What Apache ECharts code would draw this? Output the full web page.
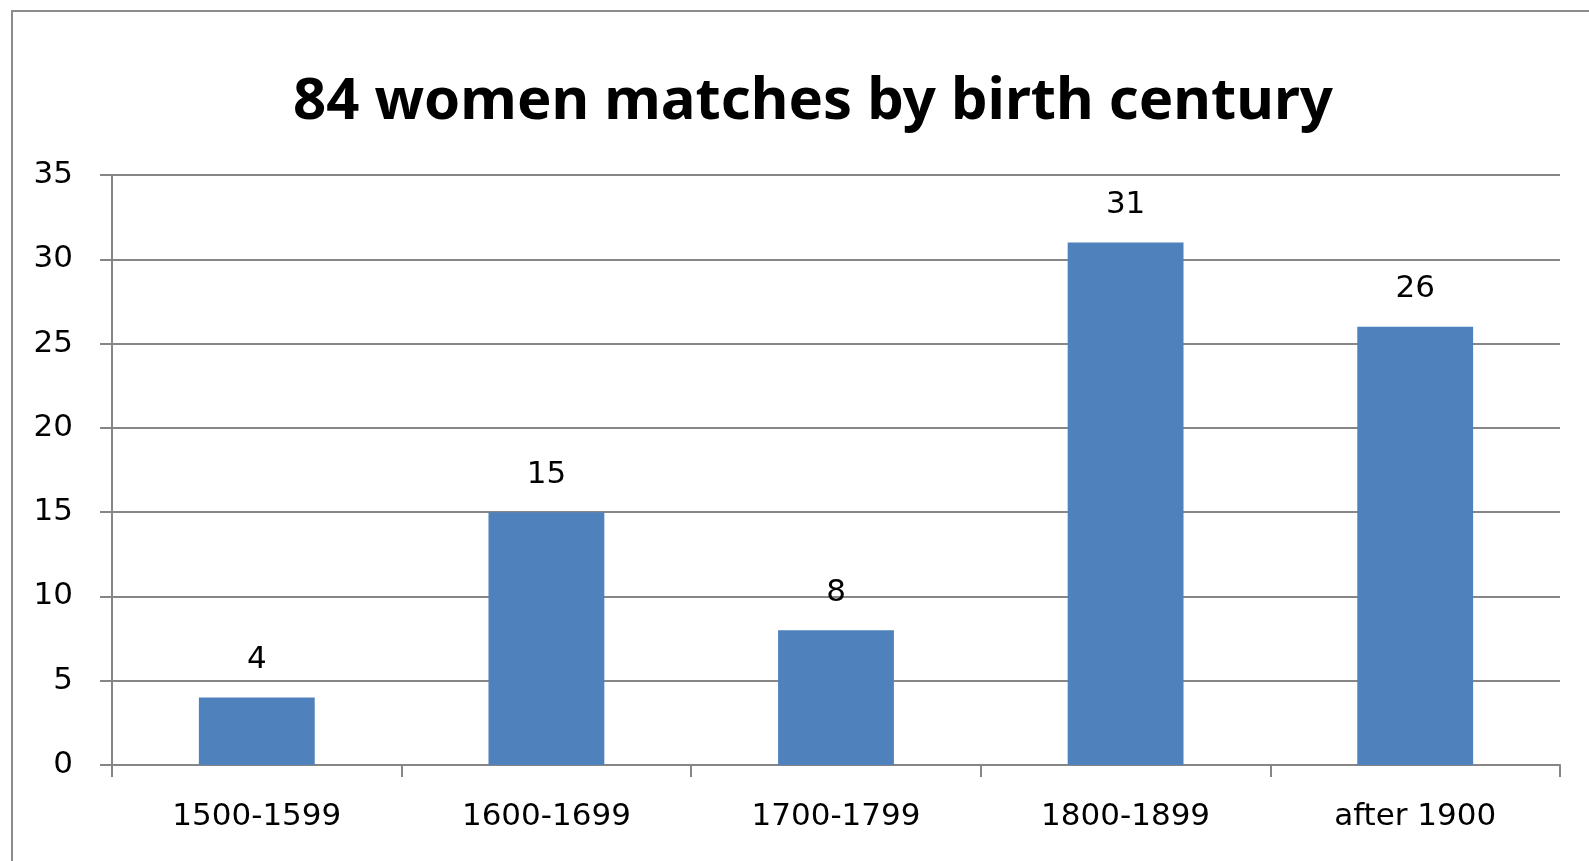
<!DOCTYPE html>
<html>
<head>
<meta charset="utf-8">
<script src="https://cdn.jsdelivr.net/npm/echarts@6/dist/echarts.min.js"></script>
<style>
  html, body { margin: 0; padding: 0; background: #fff; }
  #chart { width: 1589px; height: 861px; }
</style>
</head>
<body>
<div id="chart"></div>
<script>
// birth century buckets and number of matches
var centuries = ['1500-1599', '1600-1699', '1700-1799', '1800-1899', 'after 1900'];
var matches = [4, 15, 8, 31, 26];

var labelFont = 'DejaVu Sans';
var gridColor = '#868686';

var option = {
  animation: false,
  backgroundColor: '#fff',
  title: {
    text: '84 women matches by birth century',
    left: 808,
    top: 68,
    textAlign: 'center',
    textStyle: {
      fontFamily: 'Noto Sans',
      fontWeight: 'bold',
      fontSize: 58,
      color: '#000'
    }
  },
  graphic: [{
    type: 'rect',
    shape: {x: 12, y: 11, width: 1620, height: 900},
    style: {fill: 'none', stroke: '#8c8c8c', lineWidth: 2},
    silent: true
  }],
  grid: {
    left: 112,
    right: 29,
    top: 175,
    bottom: 96
  },
  xAxis: {
    type: 'category',
    data: centuries,
    axisLine: {lineStyle: {color: gridColor, width: 2}},
    axisTick: {show: true, length: 12, lineStyle: {color: gridColor, width: 2}},
    axisLabel: {
      margin: 36,
      fontFamily: labelFont,
      fontSize: 31,
      color: '#000'
    }
  },
  yAxis: {
    type: 'value',
    min: 0,
    max: 35,
    interval: 5,
    axisLine: {show: true, lineStyle: {color: gridColor, width: 2}},
    axisTick: {show: true, length: 12, lineStyle: {color: gridColor, width: 2}},
    splitLine: {lineStyle: {color: gridColor, width: 2}},
    axisLabel: {
      margin: 39,
      fontFamily: labelFont,
      fontSize: 31,
      color: '#000'
    }
  },
  series: [{
    type: 'bar',
    data: matches,
    barCategoryGap: '60%',
    itemStyle: {color: '#4f81bd'},
    label: {
      show: true,
      position: 'top',
      distance: 22,
      fontFamily: labelFont,
      fontSize: 31,
      color: '#000'
    }
  }]
};

var chart = echarts.init(document.getElementById('chart'));
chart.setOption(option);
</script>
</body>
</html>
